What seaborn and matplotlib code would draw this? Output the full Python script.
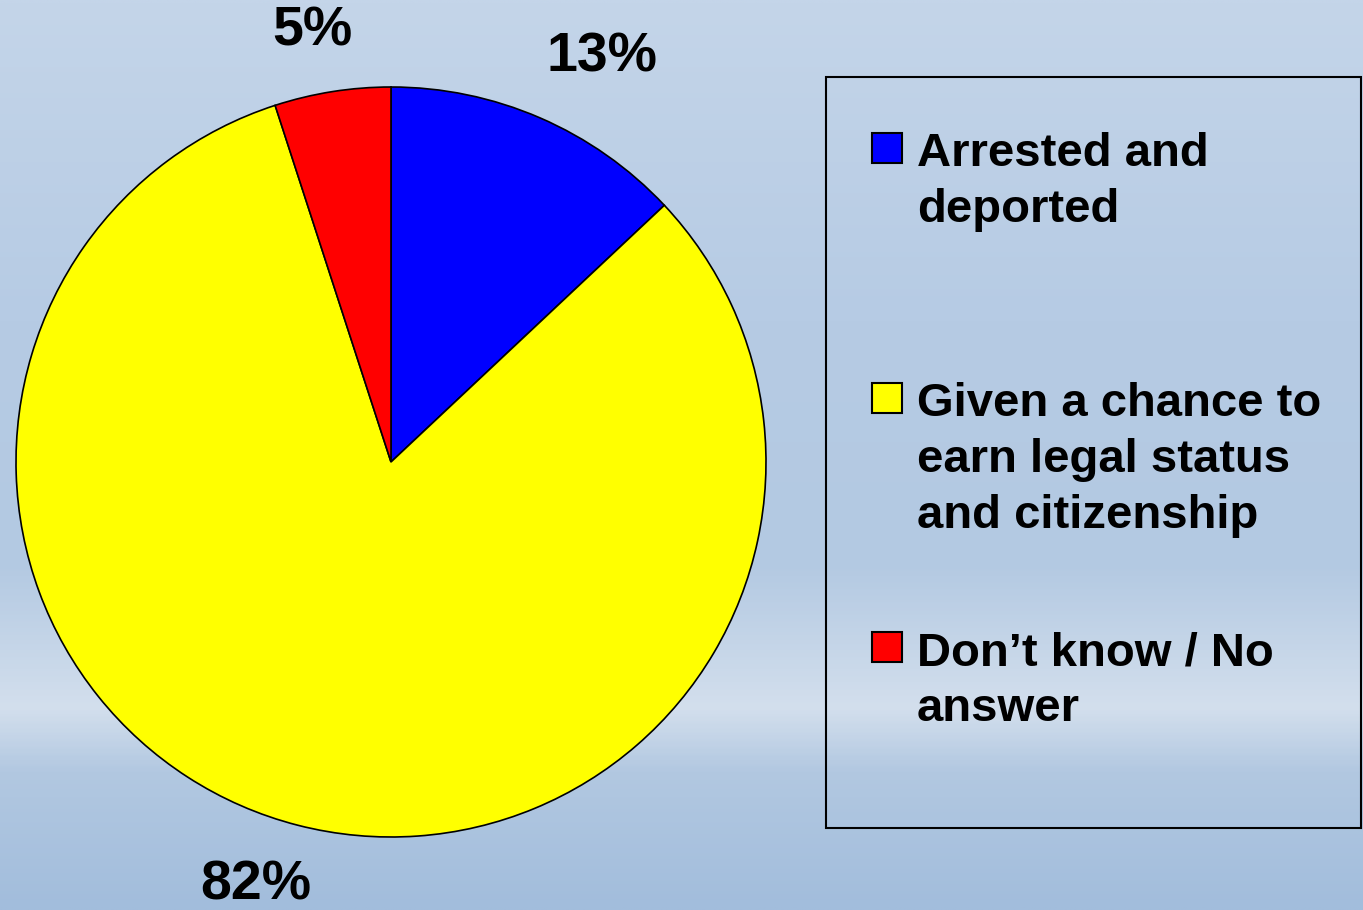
import numpy as np
import matplotlib
matplotlib.use("Agg")
import matplotlib.pyplot as plt
from matplotlib.patches import Rectangle
from matplotlib.colors import LinearSegmentedColormap
import seaborn as sns

# ---- data ----
categories = ["Arrested and\ndeported",
              "Given a chance to\nearn legal status\nand citizenship",
              "Don\u2019t know / No\nanswer"]
values = [13, 82, 5]
pct_labels = ["13%", "82%", "5%"]
colors = ["#0000FF", "#FFFF00", "#FF0000"]

sns.set_theme(style="white")
plt.rcParams['font.family'] = ['Liberation Sans', 'DejaVu Sans']

W, H = 1363, 910
fig = plt.figure(figsize=(W / 100, H / 100), dpi=100)

# background sky gradient
bg = fig.add_axes([0, 0, 1, 1], zorder=-10)
cmap = LinearSegmentedColormap.from_list(
    "sky", [(0.0, "#c4d5e9"), (0.35, "#b6cbe4"), (0.62, "#b3c9e2"),
            (0.78, "#d3dfed"), (0.85, "#b2c8e1"), (1.0, "#a2bddc")])
grad = np.linspace(0, 1, 400)[:, None] * np.ones((1, 10))
bg.imshow(grad, aspect="auto", cmap=cmap, extent=[0, 1, 0, 1], origin="upper")
bg.set_axis_off()

# pie axes: center (391,462), radius 375 px
cx, cy, r = 391, 462, 375
ax = fig.add_axes([(cx - r) / W, (H - cy - r) / H, 2 * r / W, 2 * r / H])
wedges, _ = ax.pie(values, colors=colors, startangle=90, counterclock=False,
                   radius=1.0,
                   wedgeprops=dict(edgecolor="black", linewidth=1.2))
ax.set_xlim(-1, 1)
ax.set_ylim(-1, 1)
ax.set_aspect("equal")
ax.set_axis_off()

# percentage labels (pixel centers)
label_px = [(602, 58), (256, 886), (312, 31)]
for txt, (px, py) in zip(pct_labels, label_px):
    fig.text(px / W, 1 - py / H, txt, ha="center", va="center",
             fontsize=40, fontweight="bold", color="black")

# legend box
lx0, ly0, lx1, ly1 = 826, 77, 1361, 828
fig.patches.append(Rectangle((lx0 / W, 1 - ly1 / H), (lx1 - lx0) / W,
                             (ly1 - ly0) / H, transform=fig.transFigure,
                             fill=False, edgecolor="black", linewidth=1.5))

entry_tops = [133, 383, 632]
line_gap = 56
for cat, col, top in zip(categories, colors, entry_tops):
    fig.patches.append(Rectangle((872 / W, 1 - (top + 30) / H), 30 / W, 30 / H,
                                 transform=fig.transFigure, facecolor=col,
                                 edgecolor="black", linewidth=1.5))
    for i, line in enumerate(cat.split("\n")):
        base = top + 33 + i * line_gap
        fig.text(917 / W, 1 - base / H, line, ha="left", va="baseline",
                 fontsize=34, fontweight="bold", color="black")

fig.savefig("out.png", dpi=100)
